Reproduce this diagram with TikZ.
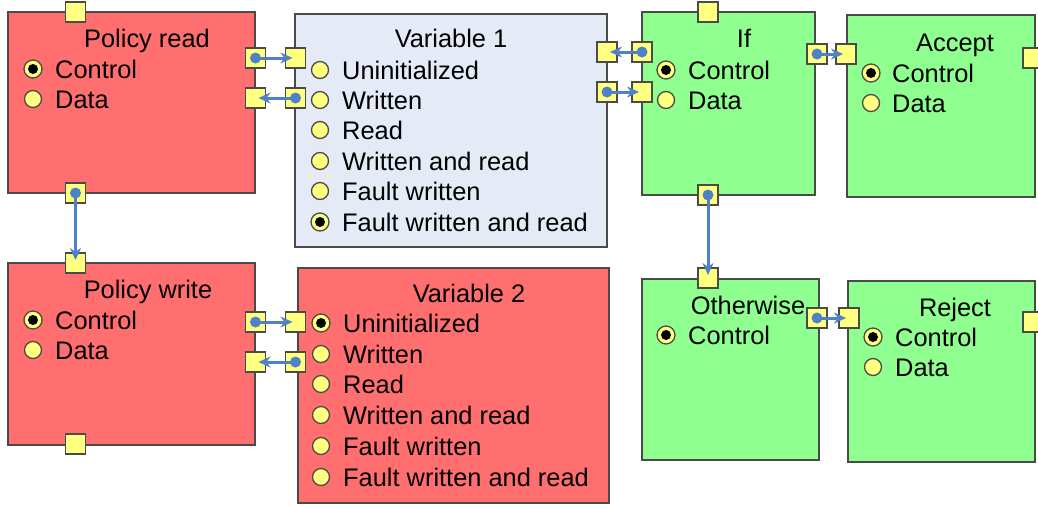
\documentclass[tikz,border=0pt]{standalone}
\usepackage{fontspec}
\setmainfont{Liberation Sans}
\usetikzlibrary{arrows.meta}
\definecolor{boxred}{HTML}{FF6F6F}
\definecolor{boxgreen}{HTML}{8FFF8F}
\definecolor{boxblue}{HTML}{E4EBF6}
\definecolor{boxline}{HTML}{4A4A4A}
\definecolor{portyellow}{HTML}{FFFF80}
\definecolor{flowblue}{HTML}{4F81C8}
\begin{document}
\begin{tikzpicture}[x=1pt,y=-1pt,
  block/.style={draw=boxline, line width=1.4pt, anchor=north west, inner sep=0pt, outer sep=0pt},
  port/.style={draw=boxline, fill=portyellow, line width=1.2pt, minimum size=20pt, inner sep=0pt, outer sep=0pt},
  radio/.style={circle, draw=boxline, fill=portyellow, line width=1.3pt, minimum size=17pt, inner sep=0pt},
  chosen/.style={radio, minimum size=18pt, path picture={\fill[black] (path picture bounding box.center) circle (5pt);}},
  lbl/.style={anchor=base west, inner sep=0pt, font=\fontsize{25.4}{30}\selectfont},
  ttl/.style={anchor=base, inner sep=0pt, font=\fontsize{25.4}{30}\selectfont},
  flow/.style={draw=flowblue, line width=3pt, -{Stealth[length=12pt,width=11pt]}, shorten >=3pt},
  dot/.style={fill=flowblue}]
\useasboundingbox (0,0) rectangle (1038,506);
\clip (0,0) rectangle (1038,506);

% state blocks
\node[block, fill=boxred,   minimum width=247pt, minimum height=181pt] (pr)  at (8,12) {};
\node[block, fill=boxred,   minimum width=247pt, minimum height=182pt] (pw)  at (8,263) {};
\node[block, fill=boxblue,  minimum width=312pt, minimum height=233pt] (v1)  at (295,14) {};
\node[block, fill=boxred,   minimum width=311pt, minimum height=235pt] (v2)  at (298,268) {};
\node[block, fill=boxgreen, minimum width=173pt, minimum height=183pt] (iff) at (642,12) {};
\node[block, fill=boxgreen, minimum width=188pt, minimum height=182pt] (acc) at (847,15) {};
\node[block, fill=boxgreen, minimum width=177pt, minimum height=181pt] (oth) at (642,279) {};
\node[block, fill=boxgreen, minimum width=187pt, minimum height=181pt] (rej) at (848,281) {};

% titles
\node[ttl] (prT)  at (147,47)  {Policy read};
\node[ttl] (pwT)  at (148,298) {Policy write};
\node[ttl] (v1T)  at (451,47)  {Variable 1};
\node[ttl] (v2T)  at (469,302) {Variable 2};
\node[ttl] (ifT)  at (744,47)  {If};
\node[ttl] (accT) at (955,51)  {Accept};
\node[ttl] (othT) at (748,314) {Otherwise};
\node[ttl] (rejT) at (955,316) {Reject};

% Policy read
\node[chosen] (prc1) at (33,69) {};  \node[lbl] (prl1) at (55,78)  {Control};
\node[radio]  (prc2) at (33,99) {};  \node[lbl] (prl2) at (55,108) {Data};
% Policy write
\node[chosen] (pwc1) at (33,320) {}; \node[lbl] (pwl1) at (55,329) {Control};
\node[radio]  (pwc2) at (33,350) {}; \node[lbl] (pwl2) at (55,359) {Data};
% Variable 1
\node[radio]  (v1c1) at (320,70)  {}; \node[lbl] (v1l1) at (342,79)  {Uninitialized};
\node[radio]  (v1c2) at (320,100) {}; \node[lbl] (v1l2) at (342,109) {Written};
\node[radio]  (v1c3) at (320,130) {}; \node[lbl] (v1l3) at (342,139) {Read};
\node[radio]  (v1c4) at (320,161) {}; \node[lbl] (v1l4) at (342,170) {Written and read};
\node[radio]  (v1c5) at (320,191) {}; \node[lbl] (v1l5) at (342,200) {Fault written};
\node[chosen] (v1c6) at (320,222) {}; \node[lbl] (v1l6) at (342,231) {Fault written and read};
% Variable 2
\node[chosen] (v2c1) at (321,323) {}; \node[lbl] (v2l1) at (343,332) {Uninitialized};
\node[radio]  (v2c2) at (321,354) {}; \node[lbl] (v2l2) at (343,363) {Written};
\node[radio]  (v2c3) at (321,384) {}; \node[lbl] (v2l3) at (343,393) {Read};
\node[radio]  (v2c4) at (321,415) {}; \node[lbl] (v2l4) at (343,424) {Written and read};
\node[radio]  (v2c5) at (321,446) {}; \node[lbl] (v2l5) at (343,455) {Fault written};
\node[radio]  (v2c6) at (321,477) {}; \node[lbl] (v2l6) at (343,486) {Fault written and read};
% If
\node[chosen] (ifc1) at (666,70)  {}; \node[lbl] (ifl1) at (688,79)  {Control};
\node[radio]  (ifc2) at (666,100) {}; \node[lbl] (ifl2) at (688,109) {Data};
% Accept
\node[chosen] (acc1) at (871,73)  {}; \node[lbl] (acl1) at (892,82)  {Control};
\node[radio]  (acc2) at (871,103) {}; \node[lbl] (acl2) at (892,112) {Data};
% Otherwise
\node[chosen] (otc1) at (666,335) {}; \node[lbl] (otl1) at (688,344) {Control};
% Reject
\node[chosen] (rjc1) at (873,337) {}; \node[lbl] (rjl1) at (895,346) {Control};
\node[radio]  (rjc2) at (873,367) {}; \node[lbl] (rjl2) at (895,376) {Data};

% ports
\node[port] (prTop) at (75.5,12)  {};
\node[port] (prBot) at (75.5,193) {};
\node[port] (prR1)  at (255.5,58) {};
\node[port] (prR2)  at (255.5,98) {};
\node[port] (v1L1)  at (295.5,58) {};
\node[port] (v1L2)  at (295.5,98) {};
\node[port] (pwTop) at (75.5,263) {};
\node[port] (pwBot) at (75.5,444) {};
\node[port] (pwR1)  at (255.5,322) {};
\node[port] (pwR2)  at (255.5,362) {};
\node[port] (v2L1)  at (295.5,322) {};
\node[port] (v2L2)  at (295.5,362) {};
\node[port] (v1R1)  at (607,52) {};
\node[port] (v1R2)  at (607,92) {};
\node[port] (ifL1)  at (642,52) {};
\node[port] (ifL2)  at (642,92) {};
\node[port] (ifTop) at (708,12) {};
\node[port] (ifR)   at (817,54) {};
\node[port] (acL)   at (846,54) {};
\node[port] (acR)   at (1033,58) {};
\node[port] (ifBot) at (708,195) {};
\node[port] (otTop) at (708,278) {};
\node[port] (otR)   at (817,318) {};
\node[port] (rjL)   at (849,318) {};
\node[port] (rjR)   at (1033,322) {};

% connections
\foreach \a/\b in {prR1/v1L1, v1L2/prR2, prBot/pwTop, pwR1/v2L1, v2L2/pwR2,
                   ifL1/v1R1, v1R2/ifL2, ifR/acL, ifBot/otTop, otR/rjL}{
  \fill[dot] (\a.center) circle (5.5pt);
  \draw[flow] (\a.center) -- (\b.center);
}
\end{tikzpicture}
\end{document}
